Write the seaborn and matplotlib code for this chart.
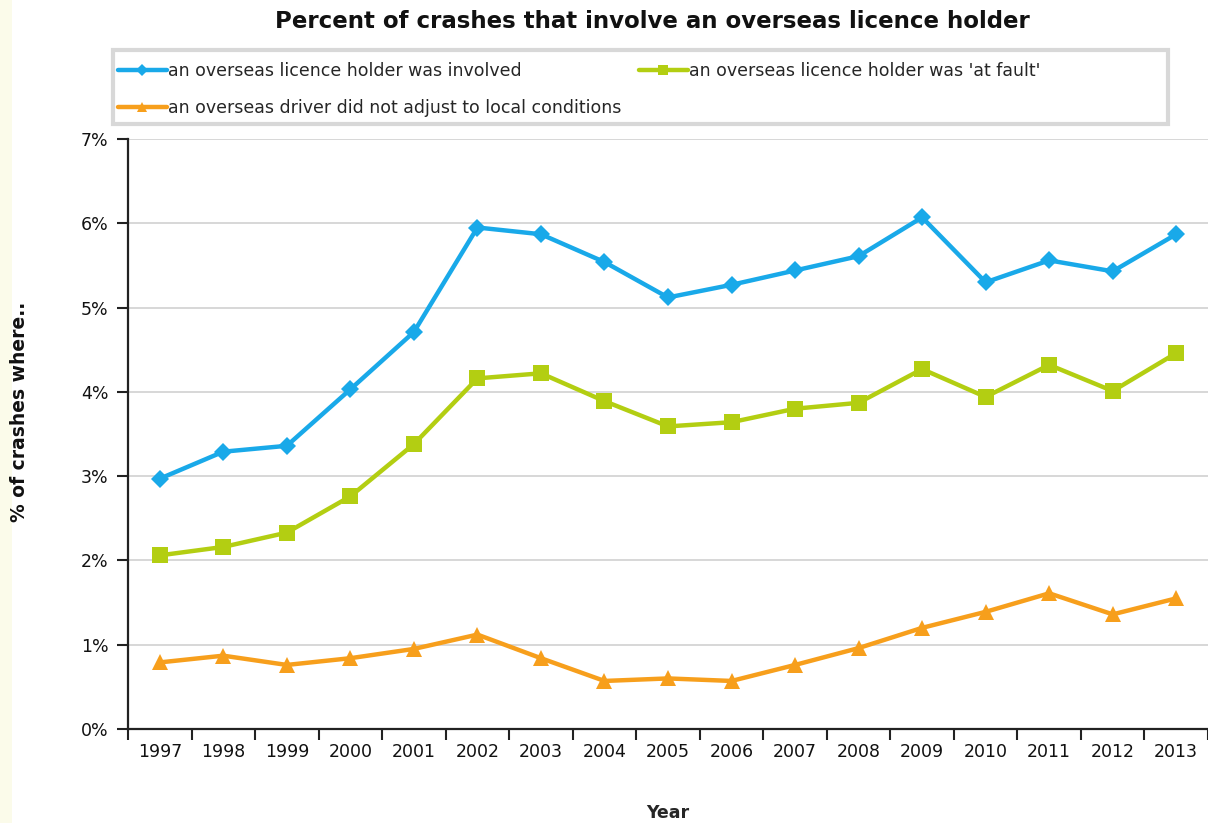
import matplotlib
matplotlib.use("Agg")
import matplotlib.pyplot as plt
import seaborn as sns
import pandas as pd
import numpy as np
from matplotlib.ticker import FixedLocator, FuncFormatter

years = [1997, 1998, 1999, 2000, 2001, 2002, 2003, 2004, 2005, 2006,
         2007, 2008, 2009, 2010, 2011, 2012, 2013]
involved = [2.97, 3.29, 3.36, 4.03, 4.71, 5.95, 5.87, 5.54, 5.12, 5.27,
            5.44, 5.61, 6.07, 5.30, 5.56, 5.43, 5.87]
at_fault = [2.06, 2.16, 2.33, 2.76, 3.38, 4.16, 4.22, 3.89, 3.59, 3.64,
            3.80, 3.87, 4.27, 3.94, 4.32, 4.01, 4.46]
not_adjust = [0.79, 0.87, 0.76, 0.84, 0.95, 1.12, 0.84, 0.57, 0.60, 0.57,
              0.76, 0.96, 1.20, 1.39, 1.61, 1.36, 1.55]

series_names = ["an overseas licence holder was involved",
                "an overseas licence holder was 'at fault'",
                "an overseas driver did not adjust to local conditions"]
colors = ["#19A9E9", "#B3CE12", "#F79F1C"]
markers = ["D", "s", "^"]

rows = []
for name, vals in zip(series_names, [involved, at_fault, not_adjust]):
    for i, (y, v) in enumerate(zip(years, vals)):
        rows.append({"idx": i, "year": y, "value": v, "series": name})
df = pd.DataFrame(rows)

sns.set_theme(style="white")
plt.rcParams['font.family'] = ['DejaVu Sans']

W, H = 1208, 823
fig = plt.figure(figsize=(W/100, H/100), dpi=100)
ax = fig.add_axes([128/W, 1-729/H, 1-128/W, (729-139)/H])

sns.lineplot(data=df, x="idx", y="value", hue="series", style="series",
             hue_order=series_names, style_order=series_names,
             palette=colors, markers=markers, dashes=False,
             linewidth=3.2, markersize=11, markeredgewidth=0,
             ax=ax, legend=True)

msizes = [9, 11, 11]
for line, ms in zip(ax.lines[:3], msizes):
    line.set_markersize(ms)

ax.set_xlim(-0.5, len(years) - 0.5)
ax.set_ylim(0, 7)

ax.yaxis.set_major_locator(FixedLocator(np.arange(0, 8, 1)))
ax.yaxis.set_major_formatter(FuncFormatter(lambda v, p: f"{int(round(v))}%"))
ax.grid(axis="y", color="#d4d4d4", linewidth=1.3)
ax.grid(axis="x", visible=False)
ax.set_axisbelow(True)

ax.set_xticks(np.arange(-0.5, len(years), 1))
ax.set_xticklabels([])
ax.set_xticks(np.arange(len(years)), minor=True)
ax.set_xticklabels([str(y) for y in years], minor=True)
ax.tick_params(axis="x", which="major", bottom=True, direction="out", length=8,
               width=1.5, color="#222222")
ax.tick_params(axis="x", which="minor", bottom=True, length=0, pad=10,
               labelsize=12.5, labelcolor="#111111")
ax.tick_params(axis="y", left=True, direction="out", length=8, width=1.5,
               color="#222222", labelsize=12.5, labelcolor="#111111", pad=6)

for s in ["top", "right"]:
    ax.spines[s].set_visible(False)
for s in ["left", "bottom"]:
    ax.spines[s].set_color("#222222")
    ax.spines[s].set_linewidth(1.6)

ax.set_xlabel("Year", fontsize=12.5, fontweight="bold", labelpad=31)
ax.set_ylabel("")
fig.text(20/W, 1-412/H, "% of crashes where..", rotation=90, ha="center", va="center",
         fontsize=13.5, fontweight="bold", color="#111111")

handles, labels = ax.get_legend_handles_labels()
hmap = dict(zip(labels, handles))
order = [series_names[0], series_names[2], series_names[1]]
ax.legend([hmap[n] for n in order], order, ncol=2,
          loc="upper left", bbox_to_anchor=(118/W, 1-62/H),
          bbox_transform=fig.transFigure,
          fontsize=12.5, frameon=False,
          handlelength=2.8, handletextpad=0.1, borderpad=0.0, labelspacing=1.1,
          columnspacing=1.0, markerscale=0.6, borderaxespad=0)

fig.patches.append(plt.Rectangle((113/W, 1-124/H), 1055/W, 74/H, transform=fig.transFigure,
                                 facecolor="none", edgecolor="#d8d8d8", linewidth=3, zorder=5))

fig.text(0.54, 1-21/H, "Percent of crashes that involve an overseas licence holder",
         ha="center", va="center", fontsize=16.5, fontweight="bold", color="#111111")

fig.patches.append(plt.Rectangle((0, 0), 12/W, 1, transform=fig.transFigure,
                                 facecolor="#fbfbea", edgecolor="none", zorder=-1))

fig.savefig("out.png", dpi=100)
